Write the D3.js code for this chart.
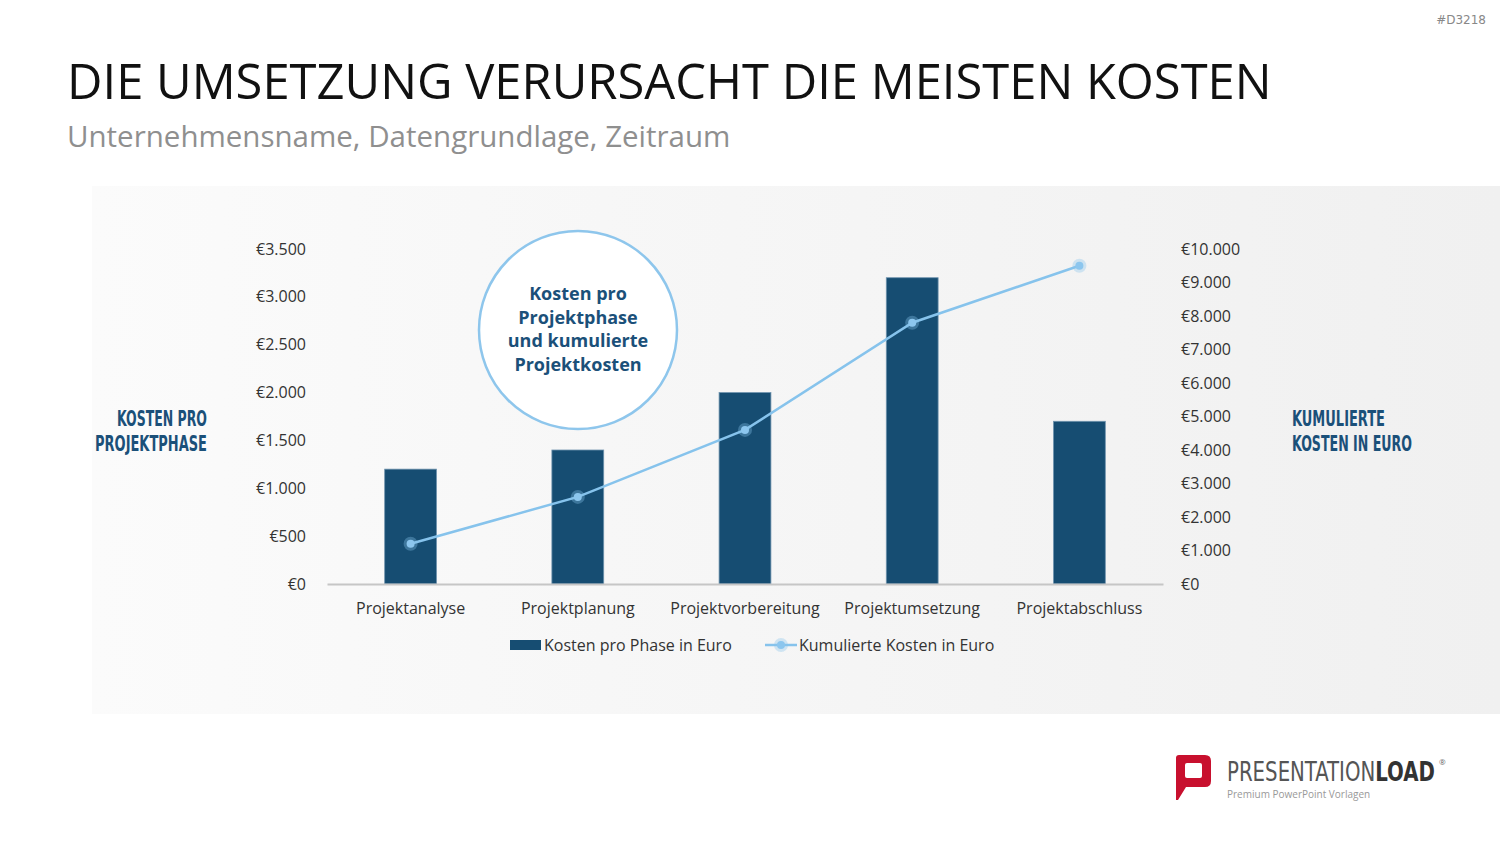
<!DOCTYPE html>
<html>
<head>
<meta charset="utf-8">
<script src="https://cdnjs.cloudflare.com/ajax/libs/d3/7.8.5/d3.min.js"></script>
<style>
  html, body { margin: 0; padding: 0; background: #fff; }
  svg { display: block; font-family: "Open Sans", "Noto Sans", sans-serif; }
</style>
</head>
<body>
<script>
// data
const phases = ["Projektanalyse", "Projektplanung", "Projektvorbereitung", "Projektumsetzung", "Projektabschluss"];
const costPerPhase = [1200, 1400, 2000, 3200, 1700];
const cumulative = [1200, 2600, 4600, 7800, 9500];
const leftTicks = [0, 500, 1000, 1500, 2000, 2500, 3000, 3500];
const rightTicks = [0, 1000, 2000, 3000, 4000, 5000, 6000, 7000, 8000, 9000, 10000];
const bubbleLines = ["Kosten pro", "Projektphase", "und kumulierte", "Projektkosten"];

const W = 1500, H = 844;
const navy = "#164d72", light = "#86c3ec", labelBlue = "#1b5079";

const svg = d3.select("body").append("svg")
    .attr("width", W)
    .attr("height", H);

// background panel gradient
const defs = svg.append("defs");
const grad = defs.append("linearGradient").attr("id", "panel").attr("x1", 0).attr("x2", 1);
grad.append("stop").attr("offset", "0%").attr("stop-color", "#fbfbfb");
grad.append("stop").attr("offset", "100%").attr("stop-color", "#f0f0f0");

svg.append("rect")
    .attr("x", 92).attr("y", 186)
    .attr("width", W - 92).attr("height", 528)
    .attr("fill", "url(#panel)");

// squeeze a text horizontally to a target width (keeps its bbox honest)
function fitWidth(sel, target, xPos, anchor) {
    sel.each(function () {
        const t = d3.select(this);
        const w = this.getComputedTextLength();
        const sx = target / w;
        t.attr("x", 0).attr("text-anchor", anchor)
         .attr("transform", `translate(${xPos},0) scale(${sx},1)`);
    });
}

// title
const title = svg.append("text")
    .attr("y", 99)
    .attr("font-size", 49)
    .attr("fill", "#111")
    .text("DIE UMSETZUNG VERURSACHT DIE MEISTEN KOSTEN");
fitWidth(title, 1205, 67, "start");

svg.append("text")
    .attr("x", 67).attr("y", 147)
    .attr("font-size", 29.5)
    .attr("fill", "#8f8f8f")
    .text("Unternehmensname, Datengrundlage, Zeitraum");

svg.append("text")
    .attr("x", 1486).attr("y", 24)
    .attr("text-anchor", "end")
    .attr("font-family", "DejaVu Sans")
    .attr("font-size", 12)
    .attr("fill", "#888")
    .text("#D3218");

// scales
const x = d3.scaleBand().domain(phases).range([327, 1163]).paddingInner(0.69).paddingOuter(0.345);
const yL = d3.scaleLinear().domain([0, 3500]).range([584, 249]);
const yR = d3.scaleLinear().domain([0, 10000]).range([584, 249]);
const fmt = v => "€" + d3.format(",")(v).replace(/,/g, ".");

// left axis
const axL = svg.append("g")
    .attr("transform", "translate(306,0)")
    .call(d3.axisLeft(yL).tickValues(leftTicks).tickFormat(fmt).tickSize(0).tickPadding(0));
axL.select(".domain").remove();
axL.selectAll("text").attr("font-size", 16).attr("fill", "#333").attr("font-family", "Open Sans").attr("dy", "0.32em");

// right axis
const axR = svg.append("g")
    .attr("transform", "translate(1181,0)")
    .call(d3.axisRight(yR).tickValues(rightTicks).tickFormat(fmt).tickSize(0).tickPadding(0));
axR.select(".domain").remove();
axR.selectAll("text").attr("font-size", 16).attr("fill", "#333").attr("font-family", "Open Sans").attr("dy", "0.32em");

// bars
svg.append("g").selectAll("rect")
    .data(phases)
    .join("rect")
    .attr("x", d => x(d))
    .attr("y", (d, i) => yL(costPerPhase[i]))
    .attr("width", x.bandwidth())
    .attr("height", (d, i) => yL(0) - yL(costPerPhase[i]))
    .attr("fill", navy)
    .attr("stroke", "#6f93ae")
    .attr("stroke-width", 0.8);

// x axis
const axX = svg.append("g")
    .attr("transform", "translate(0,584)")
    .call(d3.axisBottom(x).tickSize(0).tickPadding(0));
axX.select(".domain").attr("stroke", "#c6c6c6").attr("stroke-width", 2);
axX.selectAll("text").attr("font-size", 16).attr("fill", "#333").attr("font-family", "Open Sans").attr("dy", "1.85em");

// cumulative line
const line = d3.line()
    .x((d, i) => x(phases[i]) + x.bandwidth() / 2)
    .y(d => yR(d));

svg.append("path")
    .datum(cumulative)
    .attr("d", line)
    .attr("fill", "none")
    .attr("stroke", light)
    .attr("stroke-width", 2.5);

const pts = svg.append("g").selectAll("g")
    .data(cumulative)
    .join("g")
    .attr("transform", (d, i) => `translate(${x(phases[i]) + x.bandwidth() / 2},${yR(d)})`);
pts.append("circle").attr("r", 7).attr("fill", light).attr("opacity", 0.35);
pts.append("circle").attr("r", 4).attr("fill", "#8cc6ee");

// bubble
const bubble = svg.append("g").attr("transform", "translate(578,330)");
bubble.append("circle").attr("r", 99).attr("fill", "#fff").attr("stroke", "#8ec6ec").attr("stroke-width", 2.5);
bubble.selectAll("text")
    .data(bubbleLines)
    .join("text")
    .attr("y", (d, i) => -30 + i * 23.7)
    .attr("text-anchor", "middle")
    .attr("font-size", 18)
    .attr("font-weight", 700)
    .attr("fill", labelBlue)
    .text(d => d);

// side labels
function sideLabel(lines, xPos, anchor, widths) {
    const g = svg.append("g");
    g.selectAll("text")
        .data(lines)
        .join("text")
        .attr("y", (d, i) => 426 + i * 25)
        .attr("font-family", "DejaVu Sans Condensed, DejaVu Sans")
        .attr("font-weight", 700)
        .attr("font-size", 21)
        .attr("fill", labelBlue)
        .text(d => d)
        .each(function (d, i) { fitWidth(d3.select(this), widths[i], xPos, anchor); });
}
sideLabel(["KOSTEN PRO", "PROJEKTPHASE"], 207, "end", [90, 112]);
sideLabel(["KUMULIERTE", "KOSTEN IN EURO"], 1292, "start", [93, 120]);

// legend
const leg = svg.append("g");
leg.append("rect").attr("x", 510).attr("y", 640).attr("width", 31).attr("height", 10).attr("fill", navy);
leg.append("text").attr("x", 544).attr("y", 651).attr("font-size", 16).attr("fill", "#333").text("Kosten pro Phase in Euro");
leg.append("line").attr("x1", 765).attr("x2", 797).attr("y1", 645).attr("y2", 645).attr("stroke", light).attr("stroke-width", 2.5);
leg.append("circle").attr("cx", 781).attr("cy", 645).attr("r", 7).attr("fill", light).attr("opacity", 0.35);
leg.append("circle").attr("cx", 781).attr("cy", 645).attr("r", 4).attr("fill", "#8cc6ee");
leg.append("text").attr("x", 799).attr("y", 651).attr("font-size", 16).attr("fill", "#333").text("Kumulierte Kosten in Euro");

// logo
const logo = svg.append("g");
logo.append("path")
    .attr("d", "M1176,758 Q1176,755 1179,755 L1205,755 Q1211,755 1211,761 L1211,781 Q1211,787 1205,787 L1186,787 L1178,800 L1176,800 Z")
    .attr("fill", "#c8102e");
logo.append("rect").attr("x", 1185).attr("y", 763).attr("width", 17).attr("height", 15).attr("rx", 2).attr("fill", "#fff");
const brand = logo.append("text")
    .attr("y", 781)
    .attr("font-family", "DejaVu Sans Condensed, DejaVu Sans")
    .attr("font-size", 26)
    .attr("fill", "#555")
    .html('<tspan font-weight="300">PRESENTATION</tspan><tspan font-weight="700" fill="#333">LOAD</tspan>');
fitWidth(brand, 208, 1227, "start");
logo.append("text").attr("x", 1439).attr("y", 765).attr("font-size", 8).attr("fill", "#666").text("®");
logo.append("text")
    .attr("x", 1227).attr("y", 798)
    .attr("font-size", 10)
    .attr("fill", "#999")
    .text("Premium PowerPoint Vorlagen");
</script>
</body>
</html>
